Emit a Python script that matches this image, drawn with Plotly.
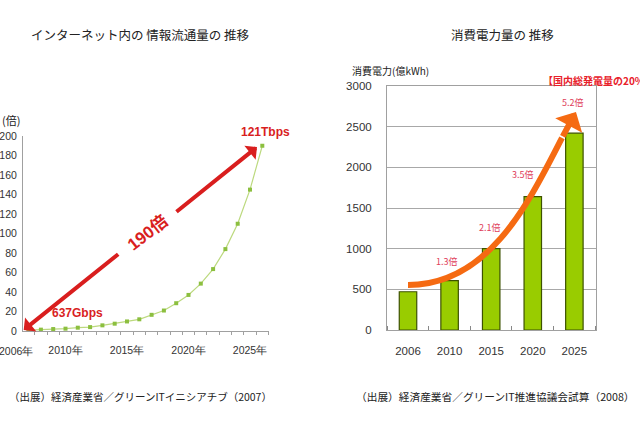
import plotly.graph_objects as go

# ---------------- data ----------------
traffic_years = [2007, 2008, 2009, 2010, 2011, 2012, 2013, 2014, 2015, 2016,
                 2017, 2018, 2019, 2020, 2021, 2022, 2023, 2024, 2025, 2026]
traffic_ratio = [1.0, 1.4, 2.0, 2.4, 3.4, 4.0, 5.8, 7.5, 9.8, 12.0,
                 16.6, 21.0, 28.5, 37.0, 48.6, 63.5, 84.0, 110.0, 145.0, 190.0]
traffic_tickvals = [2010, 2015, 2020, 2025]
traffic_ticktext = ["2010年", "2015年", "2020年", "2025年"]

power_years = ["2006", "2010", "2015", "2020", "2025"]
power_values = [470, 606, 1000, 1640, 2420]
power_ratio_labels = ["1.3倍", "2.1倍", "3.5倍", "5.2倍"]

W, H = 640, 426
CJK = "Noto Sans CJK JP"
LAT = "Arial, Liberation Sans, sans-serif"
NARROW = "Liberation Sans Narrow, Arial Narrow, Liberation Sans, sans-serif"
RED = "#d91e1e"
PINK = "#e0405a"
ORANGE = "#f56a12"
AXC = "#a0a0a0"


def PX(x):
    return x / W


def PY(y):
    return 1 - y / H


fig = go.Figure()

# left: traffic line
fig.add_trace(go.Scatter(
    x=traffic_years, y=traffic_ratio, mode="lines+markers",
    line=dict(color="#bcd97e", width=1.2),
    marker=dict(symbol="square", size=4, color="#8cbf3f"),
    xaxis="x", yaxis="y", showlegend=False, hoverinfo="skip"))

# right: power bars
fig.add_trace(go.Bar(
    x=list(range(len(power_years))), y=power_values, width=0.42,
    marker=dict(color="#99cc00", line=dict(color="#3d5200", width=1.2)),
    xaxis="x2", yaxis="y2", showlegend=False, hoverinfo="skip"))

fig.update_layout(
    width=W, height=H, margin=dict(l=0, r=0, t=0, b=0, autoexpand=False),
    paper_bgcolor="white", plot_bgcolor="white",
    font=dict(family=CJK, color="#222"),
    xaxis=dict(domain=[PX(23), PX(269)], range=[2006.545, 2026.545], anchor="y",
               automargin=False,
               showgrid=False, zeroline=False, showline=True, linecolor=AXC,
               tickmode="array", tickvals=traffic_tickvals, ticktext=traffic_ticktext,
               ticks="", ticklabelstandoff=9,
               tickfont=dict(family=LAT, size=10.5, color="#333"),
               minor=dict(tickmode="linear", tick0=2006.5, dtick=1,
                          ticks="outside", ticklen=3, tickcolor=AXC),
               fixedrange=True),
    yaxis=dict(domain=[PY(331), PY(136)], range=[0, 200], anchor="x",
               automargin=False,
               showgrid=False, zeroline=False, showline=True, linecolor=AXC,
               tickmode="linear", tick0=0, dtick=20, ticks="",
               ticklabelstandoff=3,
               tickfont=dict(family=LAT, size=10.5, color="#333"),
               fixedrange=True),
    xaxis2=dict(domain=[PX(387), PX(596)], range=[-0.505, 4.52], anchor="y2",
                automargin=False,
                showgrid=False, zeroline=False, showline=True, linecolor=AXC,
                mirror=True, tickmode="array",
                tickvals=list(range(len(power_years))), ticktext=power_years,
                ticks="", ticklabelstandoff=10,
                tickfont=dict(family=NARROW, size=11.5, color="#333"),
                minor=dict(tickmode="linear", tick0=0.5, dtick=1,
                           ticks="inside", ticklen=4, tickcolor="#888"),
                fixedrange=True),
    yaxis2=dict(domain=[PY(330), PY(86)], range=[0, 3000], anchor="x2",
                automargin=False,
                showgrid=True, gridcolor="#a8a8a8", gridwidth=1,
                zeroline=False, showline=True, linecolor=AXC, mirror=True,
                tickmode="linear", tick0=0, dtick=500, ticks="",
                ticklabelstandoff=12,
                tickfont=dict(family=NARROW, size=11.5, color="#333"),
                fixedrange=True),
)

ann = []


def txt(text, x, y, size, color="#222", family=CJK, xanchor="center", **kw):
    ann.append(dict(text=text, x=PX(x), y=PY(y), xref="paper", yref="paper",
                    showarrow=False, xanchor=xanchor, yanchor="middle",
                    font=dict(family=family, size=size, color=color), **kw))


# titles
txt("インターネット内の 情報流通量の 推移", 140, 35, 12.5)
txt("消費電力量の 推移", 502, 35, 12.5)
# footnotes
txt("（出展）経済産業省／グリーンITイニシアチブ（2007）", 7, 396, 10.5, xanchor="left")
txt("（出展）経済産業省／グリーンIT推進協議会試算（2008）", 354, 396, 10.7, xanchor="left")
# left chart texts
txt("(倍)", 0, 120, 11, xanchor="left")
txt("2006年", 16, 351, 10.5, color="#333", family=LAT)
txt("<b>121Tbps</b>", 265, 132, 12, color=RED, family=LAT)
txt("<b>637Gbps</b>", 77, 313, 12, color=RED, family=LAT)
txt("<b>190倍</b>", 147, 233, 17, color=RED, family=LAT + ", " + CJK, textangle=-38)
# right chart texts
txt("消費電力(億kWh)", 350, 70, 10, xanchor="left")
txt("<b>【国内総発電量の20%】</b>", 541, 81, 10, color="#e8202a", xanchor="left")
ratio_pos = [(447, 261), (490, 227), (523, 174), (573, 102)]
for lbl, (lx, ly) in zip(power_ratio_labels, ratio_pos):
    txt(lbl, lx, ly, 9, color=PINK)

# left double arrow (two halves)
ann.append(dict(text="", x=2006.6, y=1.0, xref="x", yref="y", ax=96, ay=-77,
                showarrow=True, arrowhead=1, arrowsize=0.75, arrowwidth=4,
                arrowcolor=RED))
ann.append(dict(text="", x=2025.57, y=188.7, xref="x", yref="y", ax=-82, ay=66,
                showarrow=True, arrowhead=1, arrowsize=0.75, arrowwidth=4,
                arrowcolor=RED))
# orange arrow head
ann.append(dict(text="", x=4.038, y=2681, xref="x2", yref="y2", ax=-14, ay=26,
                showarrow=True, arrowhead=1, arrowsize=0.85, arrowwidth=6,
                arrowcolor=ORANGE))
fig.update_layout(annotations=ann)

# orange curved shaft
fig.add_shape(type="path", xref="x2", yref="y2",
              path="M 0,553 C 1.971,553 2.933,1599 3.702,2362",
              line=dict(color=ORANGE, width=6))

fig.write_html(
    "out.html",
    config={"displayModeBar": False, "staticPlot": True},
    post_script="document.body.style.margin='0';document.body.style.overflow='hidden';",
)
